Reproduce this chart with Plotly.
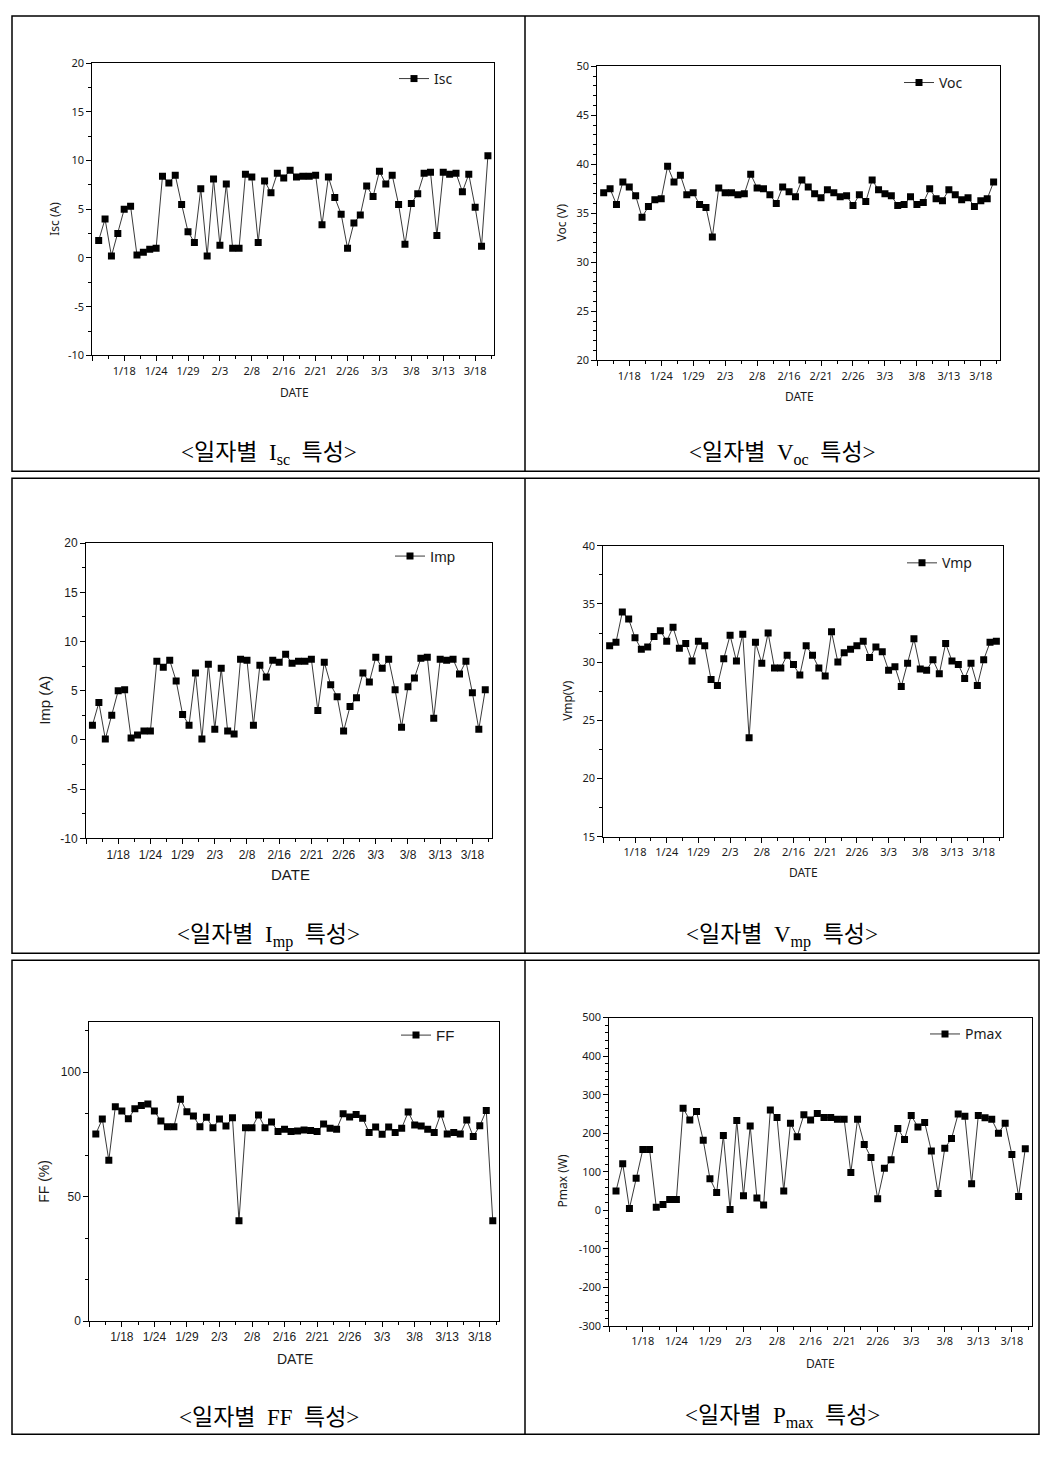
import plotly.graph_objects as go

W, H = 1058, 1462

# ---------------- data ----------------
date_labels = ["1/18", "1/24", "1/29", "2/3", "2/8", "2/16", "2/21", "2/26",
               "3/3", "3/8", "3/13", "3/18"]
date_label_index = [5, 10, 15, 20, 25, 30, 35, 40, 45, 50, 55, 60]
day_index = list(range(1, 63))

isc_ticks = [-10, -5, 0, 5, 10, 15, 20]
voc_ticks = [20, 25, 30, 35, 40, 45, 50]
imp_ticks = [-10, -5, 0, 5, 10, 15, 20]
vmp_ticks = [15, 20, 25, 30, 35, 40]
ff_ticks = [0, 50, 100]
pmax_ticks = [-300, -200, -100, 0, 100, 200, 300, 400, 500]

isc = [1.8, 4.0, 0.2, 2.5, 5.0, 5.3, 0.3, 0.6, 0.9, 1.0,
       8.4, 7.7, 8.5, 5.5, 2.7, 1.6, 7.1, 0.2, 8.1, 1.3,
       7.6, 1.0, 1.0, 8.6, 8.3, 1.6, 7.9, 6.7, 8.7, 8.2,
       9.0, 8.3, 8.4, 8.4, 8.5, 3.4, 8.3, 6.2, 4.5, 1.0,
       3.6, 4.4, 7.4, 6.3, 8.9, 7.6, 8.5, 5.5, 1.4, 5.6,
       6.6, 8.7, 8.8, 2.3, 8.8, 8.6, 8.7, 6.8, 8.6, 5.2,
       1.2, 10.5]

voc = [37.1, 37.5, 35.9, 38.2, 37.7, 36.8, 34.6, 35.7, 36.4, 36.5,
       39.8, 38.2, 38.9, 36.9, 37.1, 35.9, 35.6, 32.6, 37.6, 37.1,
       37.1, 36.9, 37.0, 39.0, 37.6, 37.5, 36.9, 36.0, 37.7, 37.2,
       36.7, 38.4, 37.7, 37.0, 36.6, 37.4, 37.1, 36.7, 36.8, 35.8,
       36.9, 36.2, 38.4, 37.4, 37.0, 36.8, 35.8, 35.9, 36.7, 35.9,
       36.1, 37.5, 36.5, 36.3, 37.4, 36.9, 36.4, 36.6, 35.7, 36.3,
       36.5, 38.2]

imp = [1.5, 3.8, 0.1, 2.5, 5.0, 5.1, 0.2, 0.5, 0.9, 0.9,
       8.0, 7.4, 8.1, 6.0, 2.6, 1.5, 6.8, 0.1, 7.7, 1.1,
       7.3, 0.9, 0.6, 8.2, 8.1, 1.5, 7.6, 6.4, 8.1, 7.9,
       8.7, 7.8, 8.0, 8.0, 8.2, 3.0, 7.9, 5.6, 4.4, 0.9,
       3.4, 4.3, 6.8, 5.9, 8.4, 7.3, 8.2, 5.1, 1.3, 5.4,
       6.3, 8.3, 8.4, 2.2, 8.2, 8.1, 8.2, 6.7, 8.0, 4.8,
       1.1, 5.1]

vmp = [31.4, 31.7, 34.3, 33.7, 32.1, 31.1, 31.3, 32.2, 32.7, 31.8,
       33.0, 31.2, 31.6, 30.1, 31.8, 31.4, 28.5, 28.0, 30.3, 32.3,
       30.1, 32.4, 23.5, 31.7, 29.9, 32.5, 29.5, 29.5, 30.6, 29.8,
       28.9, 31.4, 30.6, 29.5, 28.8, 32.6, 30.0, 30.8, 31.1, 31.4,
       31.8, 30.4, 31.3, 30.9, 29.3, 29.6, 27.9, 29.9, 32.0, 29.4,
       29.3, 30.2, 29.0, 31.6, 30.1, 29.8, 28.6, 29.9, 28.0, 30.2,
       31.7, 31.8]

ff = [75.2, 81.2, 64.6, 86.1, 84.4, 81.3, 85.3, 86.6, 87.2, 84.4,
      80.4, 78.1, 78.1, 89.1, 84.1, 82.4, 78.1, 81.9, 77.7, 81.2,
      78.4, 81.7, 40.3, 77.7, 77.7, 82.8, 77.7, 80.0, 76.2, 77.1,
      76.2, 76.4, 76.8, 76.6, 76.2, 79.2, 77.5, 77.1, 83.3, 82.0,
      83.0, 81.5, 75.8, 78.0, 75.1, 78.0, 75.8, 77.5, 84.0, 78.8,
      78.4, 77.1, 75.8, 83.2, 75.2, 75.8, 75.2, 80.8, 74.2, 78.5,
      84.6, 40.3]

pmax = [50, 121, 5, 83, 158, 158, 8, 15, 28, 28,
        265, 234, 256, 182, 82, 46, 194, 2, 233, 38,
        219, 32, 14, 260, 241, 50, 226, 191, 248, 234,
        251, 241, 241, 236, 236, 98, 236, 171, 137, 30,
        109, 131, 212, 184, 246, 216, 228, 154, 44, 161,
        186, 250, 244, 69, 246, 240, 236, 200, 226, 145,
        36, 160]

# ---------------- layout helpers ----------------
def fx(px):
    return px / W


def fy(py):
    return 1 - py / H


SANS = "Noto Sans, Open Sans, sans-serif"
ARIAL = "Liberation Sans, Arial, sans-serif"
SP = "&nbsp;&nbsp;"

panels = [
    dict(name="Isc", y=isc, ytitle="Isc (A)", yticks=isc_ticks, minor=2.5,
         box=(92.3, 494.3, 55.7, 351.0), font=SANS, tick=11, ttl=12, leg=14,
         legpos=(402, 71.7), ytpos=(55, 213), xtpos=(294, 388),
         cap="&lt;일자별" + SP + "I<sub>sc</sub>" + SP + "특성&gt;", cappos=(268.5, 451)),
    dict(name="Voc", y=voc, ytitle="Voc (V)", yticks=voc_ticks, minor=1,
         box=(597.3, 1000.0, 59.0, 356.0), font=SANS, tick=11, ttl=12, leg=14,
         legpos=(907, 75.7), ytpos=(561.7, 217), xtpos=(799, 392.7),
         cap="&lt;일자별" + SP + "V<sub>oc</sub>" + SP + "특성&gt;", cappos=(782, 451)),
    dict(name="Imp", y=imp, ytitle="Imp (A)", yticks=imp_ticks, minor=2.5,
         box=(86.0, 491.7, 540.7, 839.0), font=ARIAL, tick=12, ttl=15, leg=15,
         legpos=(398, 554), ytpos=(45, 700), xtpos=(290, 875.7),
         cap="&lt;일자별" + SP + "I<sub>mp</sub>" + SP + "특성&gt;", cappos=(268.5, 938)),
    dict(name="Vmp", y=vmp, ytitle="Vmp(V)", yticks=vmp_ticks, minor=2.5,
         box=(603.3, 1002.7, 543.3, 837.3), font=SANS, tick=11, ttl=12, leg=14,
         legpos=(910, 561), ytpos=(568, 700), xtpos=(803, 873),
         cap="&lt;일자별" + SP + "V<sub>mp</sub>" + SP + "특성&gt;", cappos=(782, 938)),
    dict(name="FF", y=ff, ytitle="FF (%)", yticks=ff_ticks, minor=50 / 3, yr=[0, 120],
         box=(89.3, 499.3, 1025.0, 1326.7), font=ARIAL, tick=12, ttl=14, leg=15,
         legpos=(404, 1038), ytpos=(44, 1186), xtpos=(295, 1365),
         cap="&lt;일자별" + SP + "FF" + SP + "특성&gt;", cappos=(268.5, 1424)),
    dict(name="Pmax", y=pmax, ytitle="Pmax (W)", yticks=pmax_ticks, minor=20,
         box=(609.3, 1032.0, 1020.0, 1331.7), font=SANS, tick=11, ttl=12, leg=14,
         legpos=(933, 1037), ytpos=(562.7, 1185), xtpos=(820.7, 1370),
         cap="&lt;일자별" + SP + "P<sub>max</sub>" + SP + "특성&gt;", cappos=(782, 1424)),
]

fig = go.Figure()
annotations = []
layout = dict(width=W, height=H, margin=dict(l=0, r=0, t=0, b=0),
              paper_bgcolor="white", plot_bgcolor="white", showlegend=True)

for i, p in enumerate(panels):
    n = "" if i == 0 else str(i + 1)
    legname = "legend" + n
    fig.add_trace(go.Scatter(
        x=day_index, y=p["y"], name=p["name"], mode="lines+markers",
        line=dict(color="#3a3a3a", width=1),
        marker=dict(symbol="square", size=7, color="black"),
        xaxis="x" + n, yaxis="y" + n, legend=legname, showlegend=True))
    x0, x1, y0, y1 = p["box"]
    yt = p["yticks"]
    yr = p.get("yr", [yt[0], yt[-1]])
    tf = dict(family=p["font"], size=p["tick"], color="#1a1a1a")
    layout["xaxis" + n] = dict(
        domain=[fx(x0), fx(x1)], anchor="y" + n, range=[0, 63],
        tickmode="array", tickvals=[0] + date_label_index, ticktext=[""] + date_labels,
        ticks="outside", ticklen=5, tickwidth=1, tickcolor="black",
        minor=dict(tickmode="linear", tick0=0, dtick=2.5, ticks="outside",
                   ticklen=3, tickwidth=1, tickcolor="black"),
        showline=True, mirror=True, linecolor="black", linewidth=1,
        showgrid=False, zeroline=False, tickfont=tf, fixedrange=True)
    layout["yaxis" + n] = dict(
        domain=[fy(y1), fy(y0)], anchor="x" + n, range=yr,
        tickmode="array", tickvals=yt, ticktext=[str(v) for v in yt],
        ticks="outside", ticklen=5, tickwidth=1, tickcolor="black",
        minor=dict(tickmode="linear", tick0=yr[0], dtick=p["minor"],
                   ticks="outside", ticklen=3, tickwidth=1, tickcolor="black"),
        showline=True, mirror=True, linecolor="black", linewidth=1,
        showgrid=False, zeroline=False, tickfont=tf, fixedrange=True)
    lx, ly = p["legpos"]
    layout[legname] = dict(
        x=fx(lx - 8), y=fy(ly), xanchor="left", yanchor="middle",
        bgcolor="rgba(0,0,0,0)", borderwidth=0,
        font=dict(family=p["font"], size=p["leg"], color="#1a1a1a"))
    tx, ty = p["ytpos"]
    annotations.append(dict(text=p["ytitle"], x=fx(tx), y=fy(ty), xref="paper", yref="paper",
                            xanchor="center", yanchor="middle", textangle=-90, showarrow=False,
                            font=dict(family=p["font"], size=p["ttl"], color="#1a1a1a")))
    dx, dy = p["xtpos"]
    annotations.append(dict(text="DATE", x=fx(dx), y=fy(dy), xref="paper", yref="paper",
                            xanchor="center", yanchor="middle", showarrow=False,
                            font=dict(family=p["font"], size=p["ttl"], color="#1a1a1a")))
    cx, cy = p["cappos"]
    annotations.append(dict(text=p["cap"], x=fx(cx), y=fy(cy), xref="paper", yref="paper",
                            xanchor="center", yanchor="middle", showarrow=False,
                            font=dict(family="Liberation Serif, Noto Sans CJK KR, serif",
                                      size=23, color="black")))

# cell borders
shapes = []
rows = [(8, 468), (475, 955), (962, 1441)]
for top, bot in rows:
    shapes.append(dict(type="rect", xref="paper", yref="paper",
                       x0=fx(12), x1=fx(1039), y0=fy(bot), y1=fy(top),
                       line=dict(color="black", width=1.5)))
    shapes.append(dict(type="line", xref="paper", yref="paper",
                       x0=fx(525), x1=fx(525), y0=fy(bot), y1=fy(top),
                       line=dict(color="black", width=1.5)))

layout["annotations"] = annotations
layout["shapes"] = shapes
fig.update_layout(**layout)
fig.write_html("out.html")
